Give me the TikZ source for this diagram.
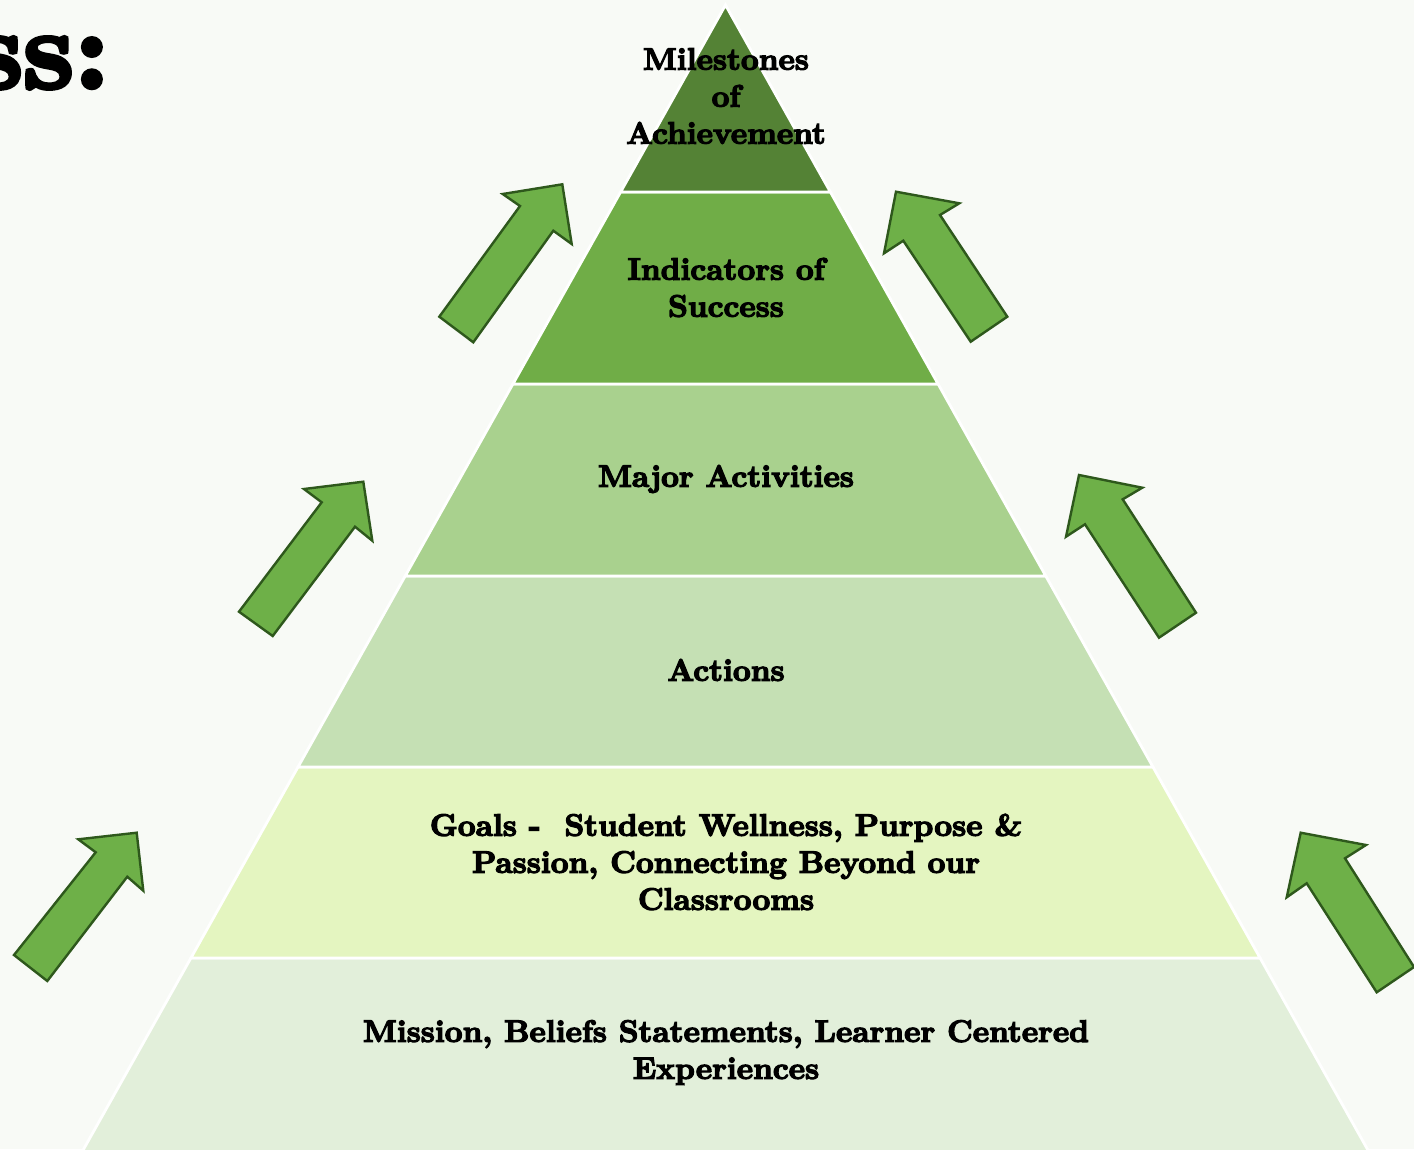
\documentclass[tikz,border=0pt]{standalone}
\usepackage{fontspec}
\newfontfamily\heavyfont{lmroman10-bold.otf}[FakeBold=4]
\definecolor{bgc}{RGB}{248,250,246}
\definecolor{bandA}{RGB}{84,130,53}
\definecolor{bandB}{RGB}{112,173,71}
\definecolor{bandC}{RGB}{169,209,142}
\definecolor{bandD}{RGB}{197,224,180}
\definecolor{bandE}{RGB}{228,245,192}
\definecolor{bandF}{RGB}{226,239,218}
\definecolor{arrfill}{RGB}{110,176,72}
\definecolor{arrline}{RGB}{46,88,28}
\tikzset{
  band/.style={draw=white, line width=2.8pt, line join=miter},
  uparrow/.style={fill=arrfill, draw=arrline, line width=2.4pt, line join=miter},
  lbl/.style={font=\heavyfont\fontsize{31}{37}\selectfont, align=center, text=black, inner sep=0pt}
}
\begin{document}
\begin{tikzpicture}[x=1pt,y=-1pt]
\useasboundingbox (0,0) rectangle (1414,1149);
\fill[bgc] (0,0) rectangle (1414,1149);
% pyramid bands
\fill[bandF, band] (190.9,958) -- (1260.1,958) -- (1373.5,1160) -- (77.5,1160) -- cycle;
\fill[bandE, band] (298,767) -- (1153,767) -- (1260.1,958) -- (190.9,958) -- cycle;
\fill[bandD, band] (405.2,576) -- (1045.8,576) -- (1153,767) -- (298,767) -- cycle;
\fill[bandC, band] (512.9,384) -- (938.1,384) -- (1045.8,576) -- (405.2,576) -- cycle;
\fill[bandB, band] (620.6,192) -- (830.4,192) -- (938.1,384) -- (512.9,384) -- cycle;
\fill[bandA, band] (725.5,5) -- (830.4,192) -- (620.6,192) -- cycle;
% arrows, left side
\draw[uparrow] (562.3,184.3) -- (571.7,244) -- (553.3,230.7) -- (473.3,342.3) -- (439.3,316.7) -- (520,206) -- (502.7,194) -- cycle;
\draw[uparrow] (363.3,481.7) -- (372.3,540.7) -- (355,526.7) -- (272.7,636) -- (239,611.7) -- (321.7,502.3) -- (304,489) -- cycle;
\draw[uparrow] (136.7,832.7) -- (143.3,890.7) -- (127.3,876.7) -- (47.3,981) -- (14,955) -- (95.7,852.3) -- (78.3,839.3) -- cycle;
% arrows, right side
\draw[uparrow] (896,191.7) -- (884,253.3) -- (903.3,240.7) -- (970.7,341.7) -- (1007.3,316.7) -- (940,215) -- (959.3,203.3) -- cycle;
\draw[uparrow] (1079,475) -- (1066,536.7) -- (1085,524.3) -- (1159,637.7) -- (1196,612.7) -- (1122.7,499.3) -- (1142.3,487.7) -- cycle;
\draw[uparrow] (1300.7,832.7) -- (1286.7,897.3) -- (1306.7,883.3) -- (1376.7,992.3) -- (1414,967) -- (1345,858.3) -- (1366,845) -- cycle;
% texts
\node[font=\heavyfont\fontsize{112}{112}\selectfont, anchor=base east, inner sep=0pt] (title) at (110,88) {ss:};
\node[lbl] (milestones) at (726,96) {Milestones\\of\\Achievement};
\node[lbl] (indicators) at (726,287.5) {Indicators of\\Success};
\node[lbl] (major) at (726,479) {Major Activities};
\node[lbl] (actions) at (726,670) {Actions};
\node[lbl] (goals) at (726,862) {Goals -\ \ Student Wellness, Purpose \&\\Passion, Connecting Beyond our\\Classrooms};
\node[lbl] (mission) at (726,1052.5) {Mission, Beliefs Statements, Learner Centered\\Experiences};
\end{tikzpicture}
\end{document}
